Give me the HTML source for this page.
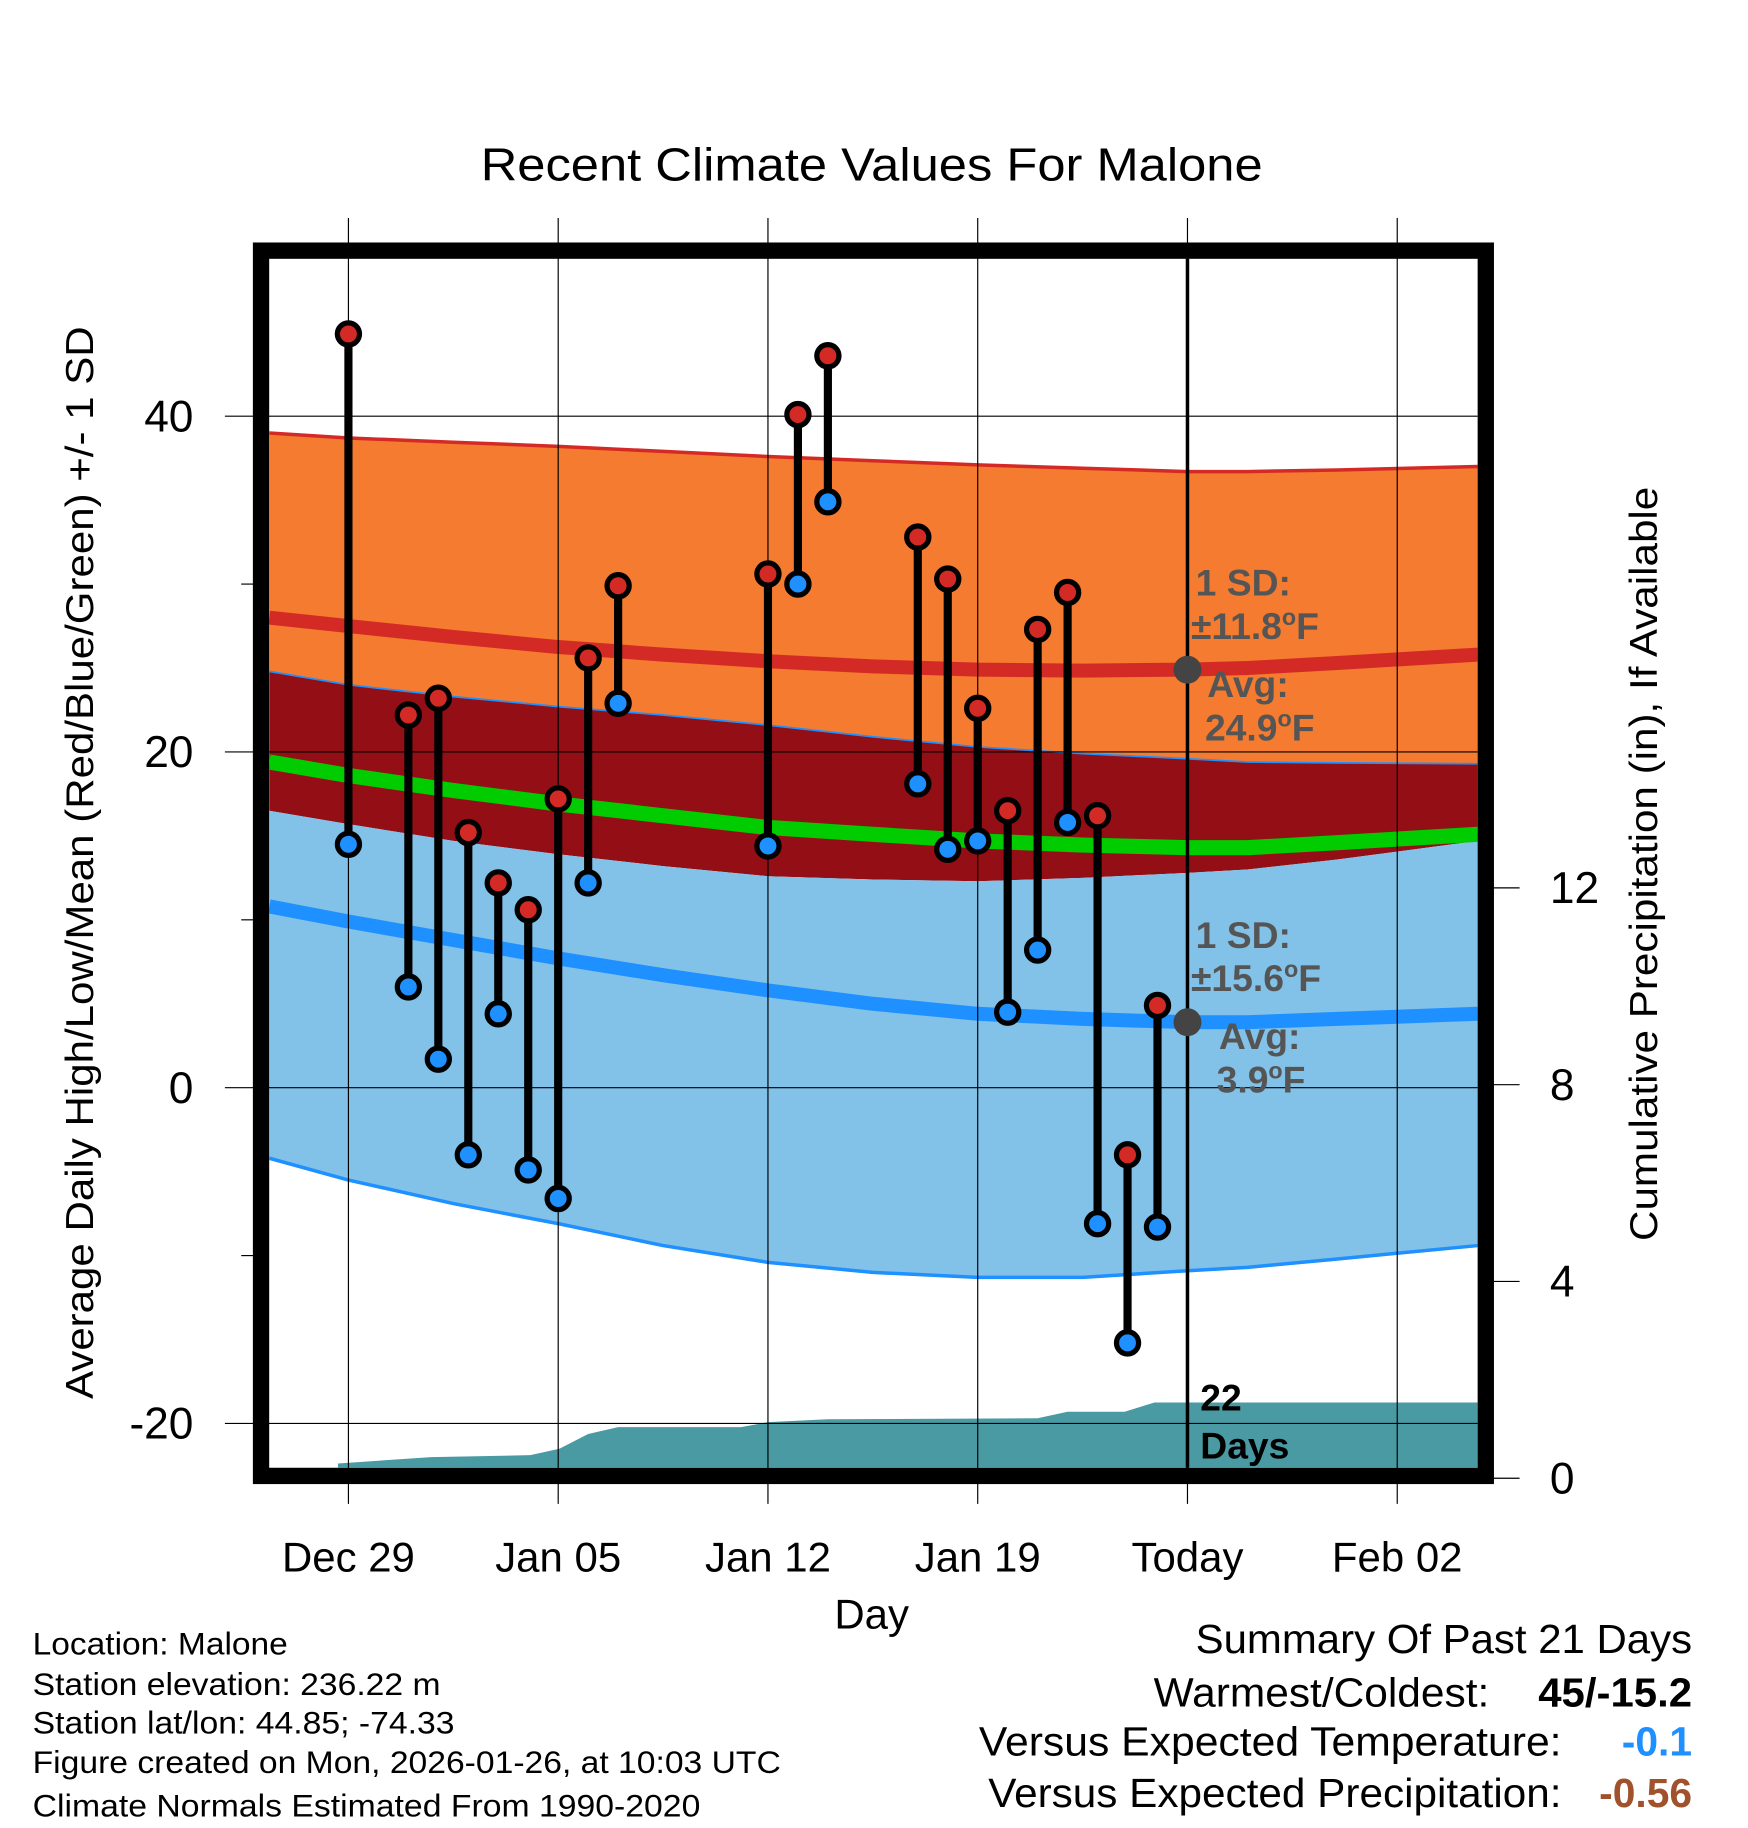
<!DOCTYPE html>
<html><head><meta charset="utf-8"><style>
html,body{margin:0;padding:0;background:#fff;}
svg{display:block;font-family:"Liberation Sans",sans-serif;}
</style></head><body>
<svg id="chart" width="1748" height="1828" viewBox="0 0 1500 1568" preserveAspectRatio="none" xmlns="http://www.w3.org/2000/svg">
<defs><clipPath id="plotclip"><rect x="231" y="222" width="1037" height="1037"/></clipPath></defs>
<rect x="0" y="0" width="1500" height="1568" fill="#fff"/>
<text x="748" y="155" font-size="40" text-anchor="middle" textLength="671" lengthAdjust="spacingAndGlyphs">Recent Climate Values For Malone</text>
<g id="grid"></g>
<g id="bands" clip-path="url(#plotclip)"></g>
<g id="gridInner"></g>
<g id="marks"></g>
<rect x="224" y="215" width="1051" height="1051" fill="none" stroke="#000" stroke-width="14"/>
<text transform="translate(80,740) rotate(-90)" font-size="33" text-anchor="middle" textLength="920" lengthAdjust="spacingAndGlyphs">Average Daily High/Low/Mean (Red/Blue/Green) +/- 1 SD</text>
<text transform="translate(1422,741) rotate(-90)" font-size="33" text-anchor="middle" textLength="647" lengthAdjust="spacingAndGlyphs">Cumulative Precipitation (in), If Available</text>
<text x="748" y="1397" font-size="36" text-anchor="middle">Day</text>
<g font-size="27">
<text x="28" y="1419" textLength="219" lengthAdjust="spacingAndGlyphs">Location: Malone</text>
<text x="28" y="1454" textLength="350" lengthAdjust="spacingAndGlyphs">Station elevation: 236.22 m</text>
<text x="28" y="1487" textLength="362" lengthAdjust="spacingAndGlyphs">Station lat/lon: 44.85; -74.33</text>
<text x="28" y="1521" textLength="642" lengthAdjust="spacingAndGlyphs">Figure created on Mon, 2026-01-26, at 10:03 UTC</text>
<text x="28" y="1558" textLength="573" lengthAdjust="spacingAndGlyphs">Climate Normals Estimated From 1990-2020</text>
</g>
<g font-size="35">
<text x="1452" y="1418" text-anchor="end" textLength="426" lengthAdjust="spacingAndGlyphs">Summary Of Past 21 Days</text>
<text x="1278" y="1464" text-anchor="end" textLength="288" lengthAdjust="spacingAndGlyphs">Warmest/Coldest:</text>
<text x="1452" y="1464" text-anchor="end" font-weight="bold" textLength="132" lengthAdjust="spacingAndGlyphs">45/-15.2</text>
<text x="1340" y="1506" text-anchor="end" textLength="500" lengthAdjust="spacingAndGlyphs">Versus Expected Temperature:</text>
<text x="1452" y="1506" text-anchor="end" font-weight="bold" fill="#1e90ff">-0.1</text>
<text x="1340" y="1550" text-anchor="end" textLength="492" lengthAdjust="spacingAndGlyphs">Versus Expected Precipitation:</text>
<text x="1452" y="1550" text-anchor="end" font-weight="bold" fill="#a0522d">-0.56</text>
</g>
</svg>
<script>
// ---- data ----
const barDays = [0,2,3,4,5,6,7,8,9,14,15,16,19,20,21,22,23,24,25,26,27];
const highs = [44.9,22.2,23.2,15.2,12.2,10.6,17.2,25.6,29.9,30.6,40.1,43.6,32.8,30.3,22.6,16.5,27.3,29.5,16.2,-4.0,4.9];
const lows  = [14.5,6.0,1.7,-4.0,4.4,-4.9,-6.6,12.2,22.9,14.4,30.0,34.9,18.1,14.2,14.7,4.5,8.2,15.8,-8.1,-15.2,-8.3];
const normDays = [-2.64,0,3.5,7,10.5,14,17.5,21,24.5,28,30,33,37.69];
const highUpper = [39.0,38.7,38.45,38.2,37.9,37.6,37.35,37.1,36.9,36.7,36.7,36.8,37.0];
const meanHigh  = [28.0,27.5,26.85,26.25,25.8,25.4,25.1,24.9,24.85,24.9,25.0,25.3,25.8];
const lowUpper  = [24.8,24.0,23.3,22.7,22.2,21.6,20.9,20.3,19.9,19.6,19.4,19.35,19.3];
const meanAll   = [19.4,18.6,17.7,16.9,16.2,15.5,15.1,14.7,14.45,14.3,14.3,14.6,15.1];
const highLower = [16.5,15.7,14.7,13.9,13.2,12.6,12.4,12.3,12.5,12.8,13.0,13.6,14.7];
const meanLow   = [10.8,9.9,8.8,7.7,6.7,5.8,5.0,4.4,4.1,3.9,3.9,4.1,4.4];
const lowLower  = [-4.2,-5.5,-6.9,-8.1,-9.4,-10.4,-11.0,-11.3,-11.3,-10.9,-10.7,-10.2,-9.4];
const precipDays = [-0.35,2.76,6.07,7.04,8.0,9.0,13.1,14.0,16.0,23.0,24.0,25.9,26.9,37.69];
const precipVals = [0.3,0.43,0.47,0.6,0.9,1.04,1.04,1.14,1.2,1.22,1.35,1.35,1.54,1.54];
const xTickDays = [0,7,14,21,28,35];
const xTickLabels = ["Dec 29","Jan 05","Jan 12","Jan 19","Today","Feb 02"];
const yTicks = [40,20,0,-20];
const yMinor = [30,10,-10];
const y2Ticks = [0,4,8,12];

// ---- scales ----
const X0=231,X1=1268,Y0=222,Y1=1259;
const xs = d => 299 + d*(180/7);
const ys = t => 933 - t*14.4;
const yp = p => 1268 - p*42.2;
const NS="http://www.w3.org/2000/svg";
function mk(tag, parent, attrs){const e=document.createElementNS(NS,tag);for(const k in attrs)e.setAttribute(k,attrs[k]);parent.appendChild(e);return e;}
const grid=document.getElementById('grid'), bands=document.getElementById('bands'), marks=document.getElementById('marks'), gi=document.getElementById('gridInner');

function pts(days, vals){return days.map((d,i)=>xs(d).toFixed(1)+','+ys(vals[i]).toFixed(1));}
function band(upper, lower, fill, name){
  const p = pts(normDays,upper).concat(pts(normDays,lower).reverse());
  const e=mk('polygon',bands,{points:p.join(' '),fill:fill});
  
  
}
band(highUpper, lowUpper, '#f47b2f', 'high-sd-band');
band(lowUpper, highLower, '#930f15', 'overlap-band');
band(highLower, lowLower, '#82c1e8', 'low-sd-band');
function line(vals, color, w, name){
  const e=mk('polyline',bands,{points:pts(normDays,vals).join(' '),fill:'none',stroke:color,'stroke-width':w,'stroke-linejoin':'round'});
  
  
}
line(highUpper,'#d42a26',3,'high-upper-line');
line(lowUpper,'#1e90ff',1.5,'low-upper-line');
line(lowLower,'#1e90ff',3,'low-lower-line');
line(meanHigh,'#d42a26',12,'mean-high-line');
line(meanLow,'#1e90ff',12,'mean-low-line');
line(meanAll,'#00cc00',13,'mean-line');

{
  const p = precipDays.map((d,i)=>xs(d).toFixed(1)+','+yp(precipVals[i]).toFixed(1));
  p.push(xs(precipDays[precipDays.length-1]).toFixed(1)+','+Y1, xs(precipDays[0]).toFixed(1)+','+Y1);
  const e=mk('polygon',bands,{points:p.join(' '),fill:'#4a9aa3'});
  
  
}

xTickDays.forEach((d,i)=>{
  const x=xs(d);
  const l=mk('line',gi,{x1:x,x2:x,y1:187,y2:1290,stroke:'#000','stroke-width':1});
  
  
  if(d===28){
    const tl=mk('line',gi,{x1:x,x2:x,y1:222,y2:1259,stroke:'#000','stroke-width':3});
    
    
  }
  const t=mk('text',grid,{x:x,y:1348,'font-size':36,'text-anchor':'middle'});
  t.textContent=xTickLabels[i];
  
  
});
yTicks.forEach(v=>{
  const y=ys(v);
  const l=mk('line',gi,{x1:193,x2:X1,y1:y,y2:y,stroke:'#000','stroke-width':1});
  
  
  const t=mk('text',grid,{x:166,y:y+13,'font-size':38,'text-anchor':'end'});
  t.textContent=v;
  
  
});
yMinor.forEach(v=>{
  const y=ys(v);
  const l=mk('line',grid,{x1:207,x2:220,y1:y,y2:y,stroke:'#000','stroke-width':1});
  
  
});
y2Ticks.forEach(v=>{
  const y=yp(v);
  const l=mk('line',grid,{x1:1280,x2:1304,y1:y,y2:y,stroke:'#000','stroke-width':1});
  
  
  const t=mk('text',grid,{x:1330,y:y+13,'font-size':38});
  t.textContent=v;
  
  
});

function ann(x,y,txt,name,fill){
  const t=mk('text',marks,{x:x,y:y,'font-size':32,'font-weight':'bold',fill:fill||'#555'});
  t.innerHTML=txt;
  
  
}
const tx=xs(28);
[[meanHigh[9],'high'],[meanLow[9],'low']].forEach(([v,n])=>{
  const c=mk('circle',marks,{cx:tx,cy:ys(v),r:12,fill:'#444'});
  
  
});
const deg='<tspan font-size="20" dy="-12">o</tspan><tspan dy="12">F</tspan>';
ann(1026,511,'1 SD:','high-sd-label');
ann(1022,548,'±11.8'+deg,'high-sd-value');
ann(1036,598,'Avg:','high-avg-label');
ann(1034,635,'24.9'+deg,'high-avg-value');
ann(1026,813,'1 SD:','low-sd-label');
ann(1022,850,'±15.6'+deg,'low-sd-value');
ann(1046,900,'Avg:','low-avg-label');
ann(1044,937,'3.9'+deg,'low-avg-value');
ann(1030,1210,'22','days-count','#000');
ann(1030,1251,'Days','days-label','#000');

barDays.forEach((d,i)=>{
  const x=xs(d);
  const s=mk('line',marks,{x1:x,x2:x,y1:ys(highs[i]),y2:ys(lows[i]),stroke:'#000','stroke-width':7});
  
  
  const h=mk('circle',marks,{cx:x,cy:ys(highs[i]),r:9.5,fill:'#d42a26',stroke:'#000','stroke-width':4.5});
  
  
  const l=mk('circle',marks,{cx:x,cy:ys(lows[i]),r:9.5,fill:'#1e90ff',stroke:'#000','stroke-width':4.5});
  
  
});
</script>
</body></html>
